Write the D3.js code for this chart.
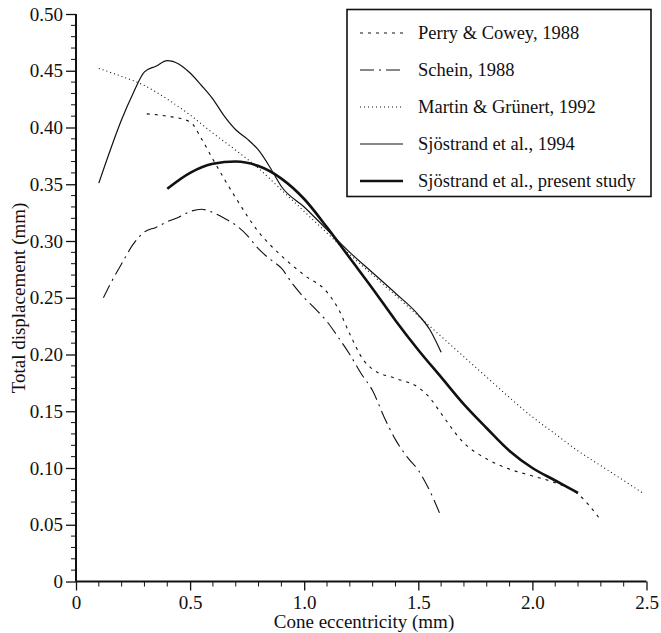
<!DOCTYPE html>
<html>
<head>
<meta charset="utf-8">
<script src="https://cdn.jsdelivr.net/npm/d3@7/dist/d3.min.js"></script>
<style>
  html, body { margin: 0; padding: 0; background: #fff; }
  svg { display: block; }
  text { font-family: "Liberation Serif", "Times New Roman", serif; fill: #111; }
</style>
</head>
<body>
<svg id="chart" width="661" height="633"></svg>
<script>
// ---- data ----
const perryCowey = [[0.31,0.412],[0.4,0.41],[0.5,0.405],[0.55,0.39],[0.6,0.372],[0.7,0.338],[0.8,0.308],[0.9,0.287],[1.0,0.27],[1.1,0.255],[1.15,0.24],[1.2,0.218],[1.26,0.195],[1.3,0.187],[1.4,0.179],[1.5,0.171],[1.55,0.162],[1.6,0.148],[1.7,0.122],[1.8,0.108],[1.9,0.099],[2.0,0.093],[2.1,0.087],[2.2,0.077],[2.3,0.054]];
const schein = [[0.12,0.25],[0.15,0.262],[0.2,0.28],[0.25,0.297],[0.3,0.308],[0.35,0.312],[0.4,0.317],[0.45,0.321],[0.5,0.326],[0.55,0.328],[0.6,0.325],[0.65,0.32],[0.7,0.314],[0.75,0.305],[0.8,0.293],[0.85,0.284],[0.9,0.276],[0.95,0.262],[1.0,0.25],[1.05,0.24],[1.1,0.229],[1.15,0.215],[1.2,0.2],[1.25,0.183],[1.3,0.168],[1.35,0.145],[1.4,0.125],[1.45,0.11],[1.5,0.098],[1.55,0.08],[1.6,0.057]];
const martinGrunert = [[0.1,0.452],[0.2,0.445],[0.3,0.437],[0.4,0.425],[0.5,0.411],[0.6,0.395],[0.7,0.38],[0.8,0.364],[0.9,0.345],[1.0,0.326],[1.1,0.307],[1.2,0.288],[1.3,0.27],[1.4,0.252],[1.5,0.234],[1.6,0.216],[1.7,0.198],[1.8,0.18],[1.9,0.162],[2.0,0.145],[2.1,0.13],[2.2,0.115],[2.3,0.102],[2.4,0.089],[2.49,0.077]];
const sjostrand1994 = [[0.1,0.351],[0.15,0.38],[0.2,0.407],[0.25,0.43],[0.3,0.449],[0.35,0.454],[0.4,0.459],[0.45,0.456],[0.5,0.448],[0.55,0.437],[0.6,0.425],[0.65,0.41],[0.7,0.398],[0.75,0.39],[0.8,0.38],[0.85,0.365],[0.9,0.348],[1.0,0.33],[1.1,0.31],[1.2,0.29],[1.3,0.272],[1.4,0.254],[1.5,0.235],[1.55,0.222],[1.6,0.202]];
const presentStudy = [[0.4,0.346],[0.5,0.36],[0.6,0.368],[0.7,0.37],[0.8,0.366],[0.9,0.355],[1.0,0.337],[1.1,0.312],[1.2,0.285],[1.3,0.258],[1.4,0.23],[1.5,0.204],[1.6,0.18],[1.7,0.156],[1.8,0.135],[1.9,0.115],[2.0,0.1],[2.1,0.089],[2.2,0.078]];

const seriesNames = ["Perry & Cowey, 1988", "Schein, 1988", "Martin & Grünert, 1992", "Sjöstrand et al., 1994", "Sjöstrand et al., present study"];
const seriesData = [perryCowey, schein, martinGrunert, sjostrand1994, presentStudy];
const seriesStyles = [
  { width: 1.1, dash: "3,5" },
  { width: 1.1, dash: "14,5,2,5" },
  { width: 1.1, dash: "1,3" },
  { width: 1.2, dash: null },
  { width: 2.6, dash: null }
];

const xTicks = [0, 0.5, 1.0, 1.5, 2.0, 2.5];
const xTickLabels = ["0", "0.5", "1.0", "1.5", "2.0", "2.5"];
const yTicks = [0, 0.05, 0.10, 0.15, 0.20, 0.25, 0.30, 0.35, 0.40, 0.45, 0.50];
const yTickLabels = ["0", "0.05", "0.10", "0.15", "0.20", "0.25", "0.30", "0.35", "0.40", "0.45", "0.50"];
const xTitle = "Cone eccentricity (mm)";
const yTitle = "Total displacement (mm)";

// ---- layout ----
const svg = d3.select("#chart");
const x = d3.scaleLinear().domain([0, 2.5]).range([76, 646.5]);
const y = d3.scaleLinear().domain([0, 0.5]).range([581.5, 14]);

// minor ticks
const xMinor = d3.range(0, 2.5001, 0.1).filter(v => !xTicks.some(t => Math.abs(t - v) < 1e-6));
const yMinor = d3.range(0, 0.5001, 0.01).filter(v => !yTicks.some(t => Math.abs(t - v) < 1e-6));

const gx = svg.append("g").attr("transform", `translate(0,${y(0)})`);
gx.call(d3.axisBottom(x).tickValues(xTicks).tickFormat((d, i) => xTickLabels[i]).tickSize(9).tickPadding(5))
  .call(g => g.select(".domain").attr("stroke", "#111").attr("stroke-width", 2))
  .call(g => g.selectAll(".tick line").attr("stroke", "#111").attr("stroke-width", 1.3))
  .call(g => g.selectAll("text").attr("font-family", "Liberation Serif").attr("font-size", 19).attr("fill", "#111"));
gx.selectAll(".minor").data(xMinor).enter().append("line")
  .attr("x1", d => x(d)).attr("x2", d => x(d)).attr("y1", 0).attr("y2", 5)
  .attr("stroke", "#111").attr("stroke-width", 1);

const gy = svg.append("g").attr("transform", `translate(${x(0)},0)`);
gy.call(d3.axisLeft(y).tickValues(yTicks).tickFormat((d, i) => yTickLabels[i]).tickSize(10).tickPadding(3))
  .call(g => g.select(".domain").attr("stroke", "#111").attr("stroke-width", 2))
  .call(g => g.selectAll(".tick line").attr("stroke", "#111").attr("stroke-width", 1.3))
  .call(g => g.selectAll("text").attr("font-family", "Liberation Serif").attr("font-size", 19).attr("fill", "#111"));
gy.selectAll(".minor").data(yMinor).enter().append("line")
  .attr("x1", -5).attr("x2", 0).attr("y1", d => y(d)).attr("y2", d => y(d))
  .attr("stroke", "#111").attr("stroke-width", 1);
gy.select(".domain").attr("d", `M0,${y(0)}V${y(0.5)}`);
gx.select(".domain").attr("d", `M${x(0)},0H${x(2.5)}`);

// titles
svg.append("text").attr("x", 364).attr("y", 628).attr("text-anchor", "middle")
  .attr("font-size", 19).text(xTitle);
svg.append("text").attr("transform", "translate(25,298) rotate(-90)").attr("text-anchor", "middle")
  .attr("font-size", 19).text(yTitle);

// lines
const line = d3.line().x(d => x(d[0])).y(d => y(d[1])).curve(d3.curveMonotoneX);
seriesData.forEach((data, i) => {
  const st = seriesStyles[i];
  svg.append("path").datum(data).attr("d", line)
    .attr("fill", "none").attr("stroke", "#111")
    .attr("stroke-width", st.width)
    .attr("stroke-dasharray", st.dash)
    .attr("stroke-linejoin", "round");
});

// legend
const lg = svg.append("g");
lg.append("rect").attr("x", 347).attr("y", 9.5).attr("width", 304).attr("height", 187)
  .attr("fill", "#fff").attr("stroke", "#111").attr("stroke-width", 1.6);
seriesNames.forEach((name, i) => {
  const cy = 33 + i * 37;
  const st = seriesStyles[i];
  lg.append("line").attr("x1", 360).attr("x2", 403).attr("y1", cy).attr("y2", cy)
    .attr("stroke", "#111").attr("stroke-width", st.width).attr("stroke-dasharray", st.dash);
  lg.append("text").attr("x", 418).attr("y", cy + 6).attr("font-size", 18.5).text(name);
});
</script>
</body>
</html>
